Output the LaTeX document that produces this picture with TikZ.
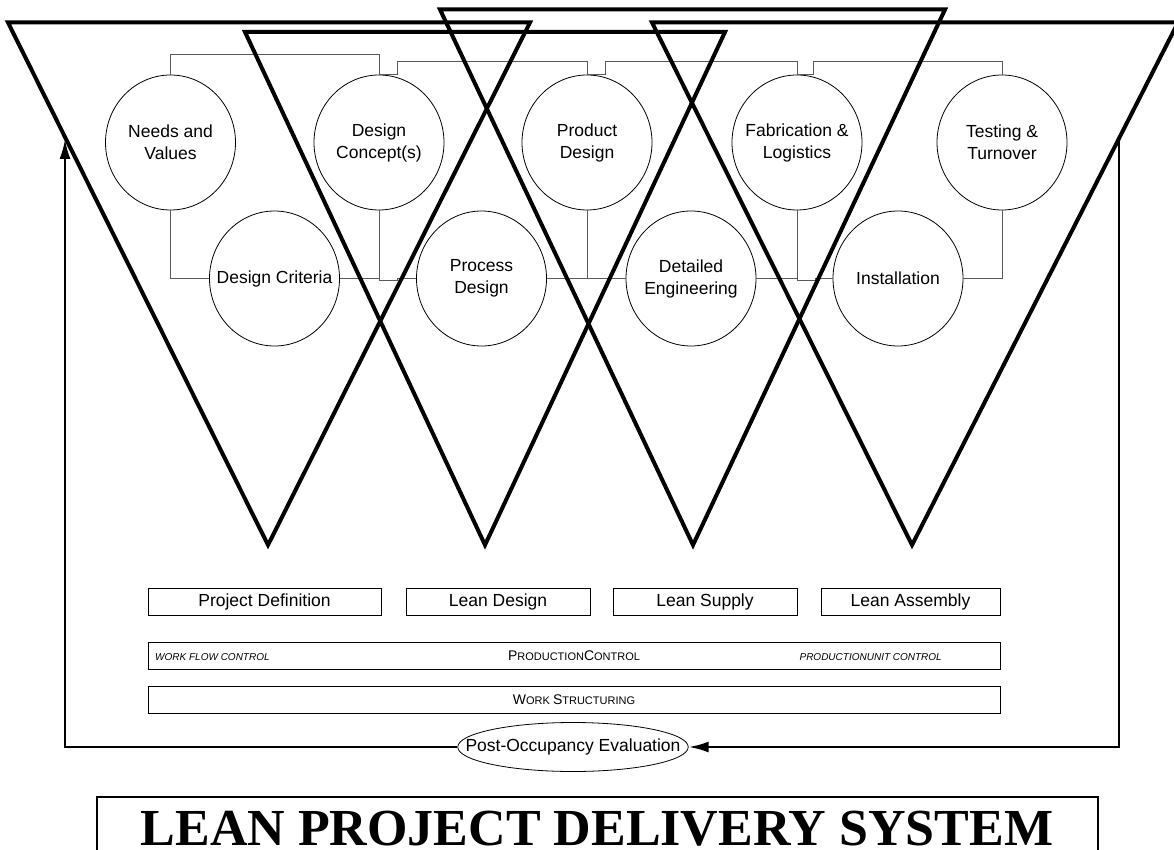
\documentclass[tikz,border=0pt]{standalone}
\usepackage{fontspec}
\setmainfont{Liberation Sans}
\newfontfamily\titlefont{Liberation Serif}
\usetikzlibrary{shapes.geometric,arrows.meta}
\newcommand\mysc[2]{{\fontsize{14}{14}\selectfont #1}{\fontsize{11}{11}\selectfont #2}}
\begin{document}
\begin{tikzpicture}[x=1pt,y=-1pt,
  proc/.style={ellipse, draw, line width=0.8pt, minimum width=130pt, minimum height=135pt,
    inner xsep=-15pt, inner ysep=-10pt, align=center, font=\fontsize{17.5}{22}\selectfont},
  link/.style={draw=black!65, line width=1pt},
  tri/.style={line width=4pt, line join=miter},
  phase/.style={draw, line width=1pt, minimum height=27pt, inner sep=0pt,
    font=\fontsize{17.5}{20}\selectfont},
  bar/.style={draw, line width=1pt, minimum height=27pt, minimum width=852pt, inner sep=0pt},
  small/.style={font=\fontsize{10}{10}\selectfont\itshape, inner sep=0pt},
  fb/.style={line width=2.5pt, line join=miter}]
\useasboundingbox (0,0) rectangle (1174,850);

% process circles
\node[proc] (nv)  at (170.5,142.5) {Needs and\\Values};
\node[proc] (dc)  at (379,142.5)   {Design\\Concept(s)};
\node[proc] (pd)  at (587,142.5)   {Product\\Design};
\node[proc] (fl)  at (797,142.5)   {Fabrication \&\\Logistics};
\node[proc] (tt)  at (1002,142.5)  {Testing \&\\Turnover};
\node[proc] (dcr) at (274.5,278.5) {Design Criteria};
\node[proc] (prd) at (481.5,278.5) {Process\\Design};
\node[proc] (de)  at (691,278.5)   {Detailed\\Engineering};
\node[proc] (ins) at (898,278.5)   {Installation};

% connectors between circles
\draw[link] (nv.north) -- ++(0,-20) -| (dc.north);
\draw[link] (dc.north) -- ++(18,0) -- ++(0,-13) -| (pd.north);
\draw[link] (pd.north) -- ++(18,0) -- ++(0,-13) -| (fl.north);
\draw[link] (fl.north) -- ++(16,0) -- ++(0,-13) -| (tt.north);
\draw[link] (nv.south) |- (dcr.west);
\draw[link] (dcr.east) -- (dc.south |- dcr.east);
\draw[link] (dc.south) -- ++(0,70) -- ++(18,0) |- (prd.west);
\draw[link] (prd.east) -- (pd.south |- prd.east);
\draw[link] (pd.south) |- (de.west);
\draw[link] (de.east) -- (fl.south |- de.east);
\draw[link] (fl.south) -- ++(0,70) -- ++(18,0) |- (ins.west);
\draw[link] (ins.east) -| (tt.south);

% triangles
\draw[tri] (8,22.5) -- (530,22.5) -- (268,545) -- cycle;
\draw[tri] (245,32) -- (725,32) -- (485,545) -- cycle;
\draw[tri] (440,9.5) -- (945,9.5) -- (693,545) -- cycle;
\draw[tri] (652,22.5) -- (1178,22.5) -- (912,545) -- cycle;

% phase boxes
\node[phase, minimum width=233pt] (pdef) at (264.5,601.5) {Project Definition};
\node[phase, minimum width=184pt] (ld)   at (498,601.5)   {Lean Design};
\node[phase, minimum width=184pt] (ls)   at (705,601.5)   {Lean Supply};
\node[phase, minimum width=179pt] (la)   at (910.5,601.5) {Lean Assembly};

% control bars
\node[bar] (pc) at (574,655.5) {\mysc{P}{RODUCTION}\mysc{C}{ONTROL}};
\node[small, anchor=west] (wfc) at (155,657) {WORK FLOW CONTROL};
\node[small, anchor=east] (puc) at (942,657) {PRODUCTIONUNIT CONTROL};
\node[bar] (ws) at (574,699.5) {\mysc{W}{ORK }\mysc{S}{TRUCTURING}};

% post-occupancy evaluation and feedback loop
\node[ellipse, draw, line width=0.8pt, minimum height=49pt, inner xsep=-26pt, inner ysep=0pt,
  font=\fontsize{17.5}{20}\selectfont] (poe) at (573,747) {Post-Occupancy Evaluation};
\coordinate (fbR) at (1119,141);
\coordinate (fbL) at (65,139);
\draw[fb, -{Latex[length=20pt,width=11pt]}] (fbR) |- (poe.east);
\draw[fb, -{Latex[length=20pt,width=11pt]}] (poe.west) -| (fbL);

% title
\draw[line width=1.2pt] (97,870) |- (1098,797) -- (1098,870);
\node[anchor=base, inner sep=0pt, font=\fontsize{52}{52}\selectfont\titlefont\bfseries] (title)
  at (597,845) {LEAN PROJECT DELIVERY SYSTEM};
\end{tikzpicture}
\end{document}
